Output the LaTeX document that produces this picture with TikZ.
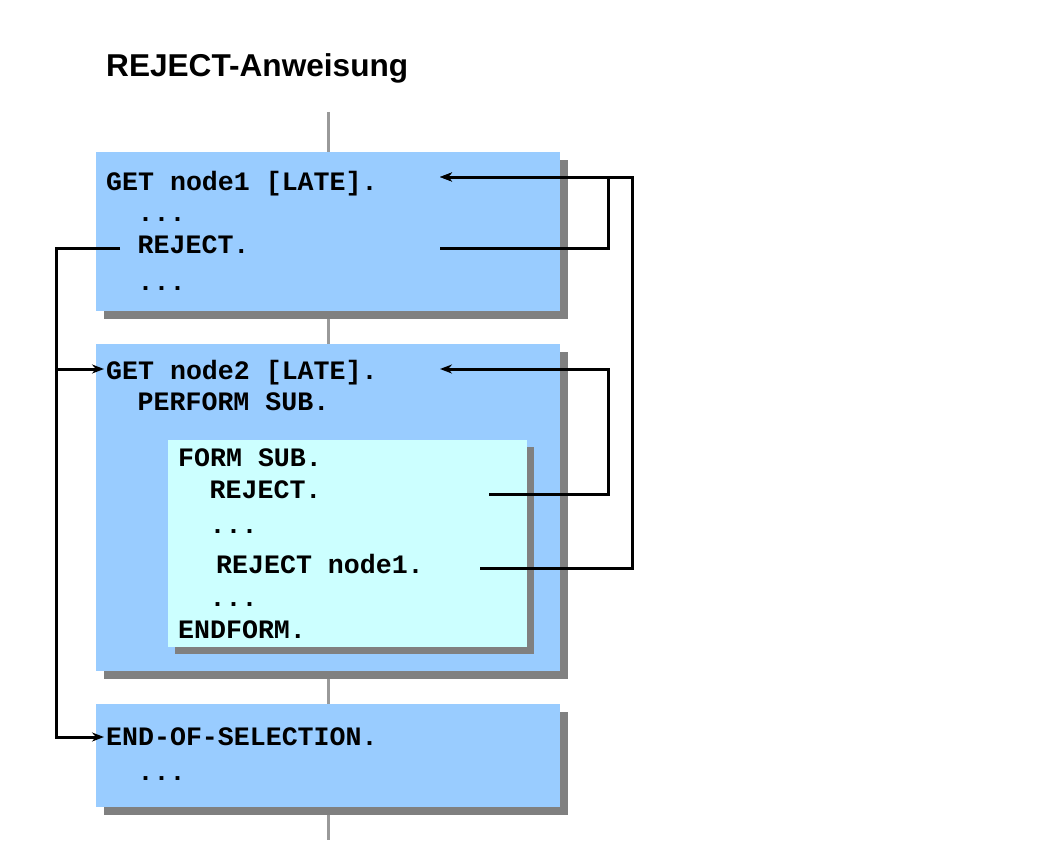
\documentclass[tikz,border=0pt]{standalone}
\usepackage{fontspec}
\setmainfont{Liberation Sans}
\setsansfont{Liberation Sans}
\setmonofont{Liberation Mono}
\usetikzlibrary{arrows.meta}
\definecolor{boxblue}{HTML}{99CCFF}
\definecolor{boxcyan}{HTML}{CCFFFF}
\definecolor{shadowgray}{HTML}{808080}
\definecolor{linegray}{HTML}{999999}

\begin{document}
\begin{tikzpicture}[x=1pt,y=-1pt]
\tikzstyle{every node}=[inner sep=0pt,anchor=base west,font=\fontsize{26.6}{30}\selectfont\ttfamily\bfseries]
\tikzstyle{flow}=[line width=3pt]
\tikzstyle{jump}=[flow,-{Stealth[length=12pt,width=9pt]}]
\useasboundingbox (0,0) rectangle (1056,864);

% time line and boxes
\draw [linegray,line width=3pt] (328,112) -- (328,840);
\fill [shadowgray] (104,160) rectangle (568,319);
\fill [boxblue] (96,152) rectangle (560,311);
\fill [shadowgray] (104,352) rectangle (568,679);
\fill [boxblue] (96,344) rectangle (560,671);
\fill [shadowgray] (175,447) rectangle (534,654);
\fill [boxcyan] (168,440) rectangle (527,647);
\fill [shadowgray] (104,712) rectangle (568,815);
\fill [boxblue] (96,704) rectangle (560,807);

\node [font=\fontsize{31.6}{36}\selectfont\sffamily\bfseries] (title) at (106,77) {REJECT-Anweisung};

% first GET
\node (get1) at (106,190) {GET node1 [LATE].};
\node (dots1) at (137.5,221) {...};
\node (rej1) at (137.5,253) {REJECT.};
\node (dots2) at (137.5,290) {...};

% second GET with subroutine
\node (get2) at (106,379) {GET node2 [LATE].};
\node (perf) at (137.5,410) {PERFORM SUB.};
\node (form) at (178,466) {FORM SUB.};
\node (rej2) at (209.5,498) {REJECT.};
\node (dots3) at (209.5,533) {...};
\node (rej3) at (216,573) {REJECT node1.};
\node (dots4) at (209.5,606) {...};
\node (endform) at (178,638) {ENDFORM.};

% end of selection
\node (eos) at (106,745) {END-OF-SELECTION.};
\node (dots5) at (137.5,780) {...};

\coordinate (get1in) at (440,177);
\coordinate (rej1out) at (440,248);
\coordinate (rej1in) at (120,248);
\coordinate (get2in) at (440,369);
\coordinate (rej2out) at (489,494);
\coordinate (rej3out) at (480,568);
\coordinate (fork) at (56,369);
\coordinate (get2left) at (104,369);
\coordinate (eosin) at (104,737);

\draw [jump] (rej1out) -- ++(168,0) |- (get1in);
\draw [jump] (rej3out) -- ++(152,0) |- (get1in);
\draw [jump] (rej2out) -- ++(119,0) |- (get2in);
\draw [jump] (rej1in) -- ++(-64,0) |- (eosin);
\draw [jump] (fork) -- (get2left);
\end{tikzpicture}
\end{document}
